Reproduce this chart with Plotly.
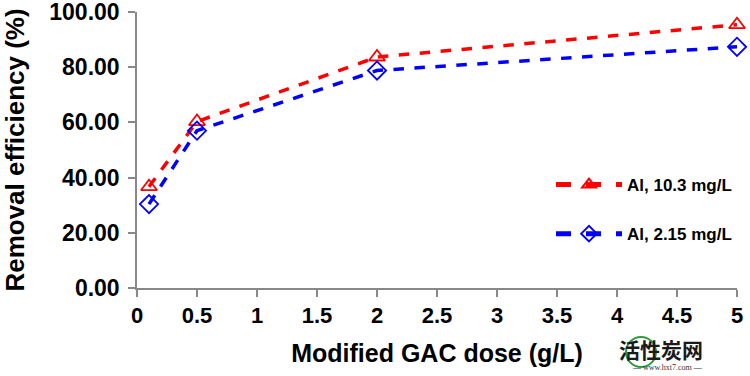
import plotly.graph_objects as go

dose = [0.1, 0.5, 2, 5]
al_high = [36.7, 60.3, 83.7, 95.4]
al_low = [30.4, 57.0, 78.8, 87.4]
series_names = ["Al, 10.3 mg/L", "Al, 2.15 mg/L"]
x_ticks = [0, 0.5, 1, 1.5, 2, 2.5, 3, 3.5, 4, 4.5, 5]
y_ticks = [0, 20, 40, 60, 80, 100]

FONT = "Liberation Sans, Arial, sans-serif"

fig = go.Figure()
fig.add_trace(go.Scatter(
    x=dose, y=al_high, name=series_names[0], mode="lines+markers",
    line=dict(color="#FF0000", width=3.5, dash="dash"),
    marker=dict(symbol="triangle-up-open", size=14, color="#FF0000", line=dict(width=1.8)),
    legendgroup="a", cliponaxis=False))
fig.add_trace(go.Scatter(
    x=dose, y=al_low, name=series_names[1], mode="lines+markers",
    line=dict(color="#0000FF", width=3.5, dash="dash"),
    marker=dict(symbol="diamond-open", size=14, color="#0000FF", line=dict(width=1.8)),
    legendgroup="b", cliponaxis=False))

axis_common = dict(
    showgrid=False, zeroline=False, showline=True, linecolor="#888888", linewidth=1.5,
    ticks="outside", tickcolor="#888888", tickwidth=1.5, ticklen=7, automargin=False,
    ticklabeloverflow="allow",
)

fig.update_layout(
    width=750, height=376,
    margin=dict(l=137, r=13, t=12, b=88),
    paper_bgcolor="white", plot_bgcolor="white",
    font=dict(family=FONT, color="black"),
    xaxis=dict(range=[0, 5], tickvals=x_ticks, ticktext=[str(v) for v in x_ticks],
               tickfont=dict(family=FONT, size=22, color="black", weight="bold"),
               title=dict(text="Modified GAC dose (g/L)", font=dict(family=FONT, size=25, weight="bold"), standoff=17),
               **axis_common),
    yaxis=dict(range=[0, 100], tickvals=y_ticks, ticktext=[f"{v:.2f}" for v in y_ticks],
               tickfont=dict(family=FONT, size=23, color="black", weight="bold"),
               ticklabelstandoff=4,
               title=dict(text="Removal efficiency (%)", font=dict(family=FONT, size=26, weight="bold"), standoff=22),
               **axis_common),
    legend=dict(x=1.0, xanchor="right", y=(288-167)/276, yanchor="top", bgcolor="rgba(0,0,0,0)",
                font=dict(family=FONT, size=17, color="black", weight="bold"),
                tracegroupgap=24, itemwidth=66, itemsizing="constant"),
    showlegend=True,
)

# watermark
fig.add_shape(type="circle", xref="paper", yref="paper",
              x0=(626-137)/600, x1=(656-137)/600, y0=(288-367)/276, y1=(288-337)/276,
              line=dict(color="#2e9a3a", width=2))
fig.add_annotation(text="活性炭网", xref="paper", yref="paper",
                   x=(705-137)/600, y=(288-349)/276, showarrow=False, yanchor="middle",
                   font=dict(family="Noto Sans CJK SC", size=21, color="#1a1a1a", weight="bold"))
fig.add_annotation(text="— www.hxt7.com —", xref="paper", yref="paper",
                   x=(705-137)/600, y=(288-367)/276, showarrow=False, yanchor="middle",
                   font=dict(family="Liberation Serif", size=8, color="#333333"))

fig.write_html("out.html", config={"displayModeBar": False},
               post_script="document.body.style.margin='0';document.body.style.padding='0';")
